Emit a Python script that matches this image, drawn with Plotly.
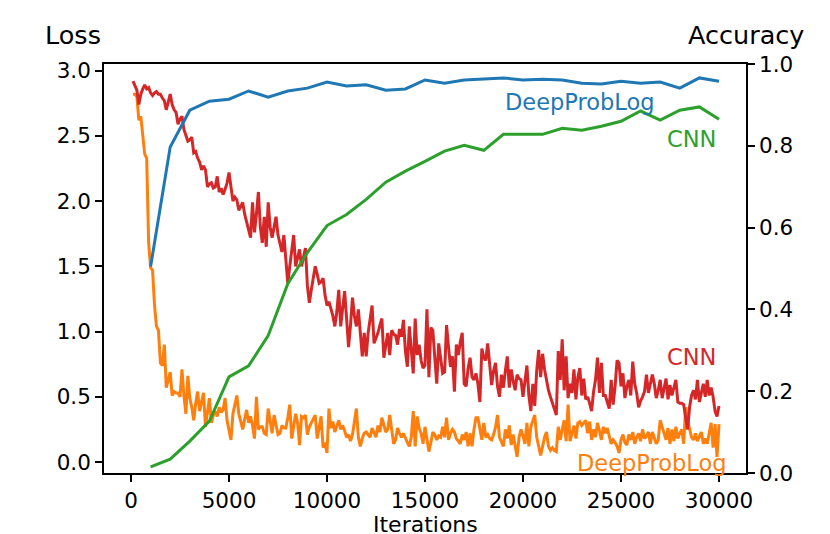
import plotly.graph_objects as go

# ---- data -------------------------------------------------------------
loss_iterations = list(range(100, 30001, 100))
acc_iterations = list(range(1000, 30001, 1000))

cnn_loss = [
    2.92, 2.88, 2.85, 2.74, 2.82, 2.86, 2.89, 2.86, 2.87, 2.83,
    2.81, 2.83, 2.84, 2.82, 2.82, 2.79, 2.77, 2.70, 2.76, 2.82,
    2.74, 2.70, 2.68, 2.59, 2.63, 2.65, 2.55, 2.50, 2.46, 2.47,
    2.49, 2.37, 2.38, 2.33, 2.30, 2.24, 2.27, 2.24, 2.11, 2.13,
    2.14, 2.10, 2.11, 2.19, 2.07, 2.10, 2.05, 2.09, 2.14, 2.22,
    2.10, 2.00, 2.03, 2.01, 1.93, 1.96, 1.99, 1.90, 1.84, 1.76,
    1.72, 1.99, 1.76, 1.90, 2.07, 1.80, 1.68, 1.88, 1.65, 1.99,
    1.80, 1.72, 1.80, 1.88, 1.74, 1.68, 1.61, 1.74, 1.55, 1.37,
    1.50, 1.62, 1.74, 1.50, 1.58, 1.63, 1.50, 1.58, 1.64, 1.35,
    1.22, 1.32, 1.42, 1.50, 1.44, 1.37, 1.38, 1.41, 1.28, 1.20,
    1.23, 1.18, 1.12, 1.04, 1.15, 1.32, 1.04, 1.18, 1.31, 1.10,
    0.88, 1.05, 1.26, 1.12, 1.04, 1.17, 1.00, 0.81, 0.99, 0.81,
    0.99, 1.08, 1.20, 0.91, 0.95, 0.99, 1.05, 1.10, 0.80, 0.90,
    0.99, 0.82, 1.01, 0.98, 0.97, 0.90, 1.02, 0.96, 1.09, 0.85,
    0.73, 1.04, 0.85, 0.68, 1.10, 0.82, 0.90, 0.78, 0.72, 0.74,
    1.17, 0.65, 1.03, 1.01, 0.80, 0.60, 0.91, 0.78, 0.68, 0.69,
    1.05, 0.88, 0.73, 0.81, 0.54, 0.90, 0.82, 0.92, 0.99, 0.60,
    0.58, 0.72, 0.80, 0.65, 0.63, 0.68, 0.60, 0.46, 0.87, 0.80,
    0.78, 0.91, 0.75, 0.59, 0.70, 0.76, 0.58, 0.50, 0.67, 0.57,
    0.70, 0.81, 0.57, 0.71, 0.62, 0.55, 0.67, 0.64, 0.63, 0.50,
    0.62, 0.74, 0.51, 0.39, 0.60, 0.43, 0.70, 0.86, 0.65, 0.83,
    0.71, 0.62, 0.55, 0.50, 0.45, 0.40, 0.36, 0.85, 0.63, 0.94,
    0.55, 0.81, 0.49, 0.60, 0.53, 0.71, 0.48, 0.65, 0.72, 0.51,
    0.64, 0.48, 0.50, 0.45, 0.39, 0.54, 0.63, 0.80, 0.53, 0.76,
    0.51, 0.51, 0.46, 0.41, 0.63, 0.44, 0.58, 0.78, 0.76, 0.58,
    0.68, 0.49, 0.58, 0.63, 0.51, 0.77, 0.60, 0.53, 0.42, 0.47,
    0.50, 0.54, 0.67, 0.53, 0.60, 0.67, 0.60, 0.49, 0.55, 0.63,
    0.49, 0.56, 0.64, 0.48, 0.59, 0.51, 0.57, 0.63, 0.46, 0.45,
    0.45, 0.44, 0.34, 0.25, 0.42, 0.51, 0.55, 0.48, 0.63, 0.46,
    0.53, 0.60, 0.50, 0.63, 0.51, 0.57, 0.50, 0.39, 0.35, 0.43,
]

dpl_loss = [
    2.82, 2.82, 2.80, 2.62, 2.65, 2.50, 2.36, 2.33, 1.68, 1.49,
    1.47, 1.20, 1.04, 1.01, 0.76, 0.74, 0.90, 0.57, 0.62, 0.69,
    0.51, 0.54, 0.53, 0.53, 0.50, 0.71, 0.51, 0.37, 0.66, 0.49,
    0.42, 0.32, 0.45, 0.54, 0.39, 0.46, 0.53, 0.27, 0.40, 0.49,
    0.30, 0.36, 0.39, 0.35, 0.42, 0.38, 0.40, 0.49, 0.32, 0.24,
    0.17, 0.37, 0.45, 0.51, 0.37, 0.30, 0.25, 0.33, 0.40, 0.30,
    0.35, 0.28, 0.18, 0.50, 0.25, 0.27, 0.27, 0.22, 0.21, 0.41,
    0.30, 0.22, 0.36, 0.28, 0.21, 0.22, 0.28, 0.26, 0.26, 0.34,
    0.44, 0.18, 0.28, 0.37, 0.30, 0.13, 0.35, 0.34, 0.36, 0.21,
    0.27, 0.30, 0.34, 0.36, 0.18, 0.27, 0.35, 0.11, 0.15, 0.07,
    0.41, 0.26, 0.31, 0.23, 0.28, 0.32, 0.25, 0.28, 0.24, 0.19,
    0.21, 0.16, 0.21, 0.30, 0.41, 0.19, 0.12, 0.18, 0.22, 0.23,
    0.21, 0.19, 0.26, 0.22, 0.19, 0.28, 0.23, 0.34, 0.28, 0.23,
    0.25, 0.36, 0.25, 0.14, 0.17, 0.26, 0.22, 0.19, 0.22, 0.18,
    0.15, 0.12, 0.19, 0.39, 0.12, 0.35, 0.26, 0.22, 0.14, 0.27,
    0.17, 0.08, 0.15, 0.23, 0.21, 0.17, 0.20, 0.19, 0.27, 0.19,
    0.34, 0.17, 0.22, 0.25, 0.23, 0.18, 0.16, 0.14, 0.21, 0.17,
    0.23, 0.12, 0.22, 0.12, 0.25, 0.34, 0.34, 0.24, 0.17, 0.30,
    0.19, 0.21, 0.18, 0.17, 0.21, 0.27, 0.36, 0.19, 0.15, 0.12,
    0.25, 0.18, 0.28, 0.13, 0.21, 0.12, 0.04, 0.19, 0.25, 0.20,
    0.14, 0.30, 0.12, 0.27, 0.32, 0.36, 0.19, 0.12, 0.05, 0.12,
    0.19, 0.23, 0.12, 0.09, 0.11, 0.09, 0.08, 0.27, 0.17, 0.25,
    0.32, 0.16, 0.44, 0.16, 0.22, 0.28, 0.18, 0.30, 0.31, 0.28,
    0.30, 0.32, 0.22, 0.31, 0.17, 0.25, 0.19, 0.30, 0.24, 0.17,
    0.27, 0.22, 0.26, 0.19, 0.14, 0.17, 0.15, 0.12, 0.07, 0.17,
    0.21, 0.15, 0.13, 0.21, 0.17, 0.23, 0.14, 0.19, 0.22, 0.16,
    0.25, 0.18, 0.20, 0.23, 0.14, 0.23, 0.18, 0.14, 0.17, 0.32,
    0.27, 0.22, 0.17, 0.26, 0.14, 0.25, 0.16, 0.27, 0.18, 0.22,
    0.25, 0.14, 0.42, 0.32, 0.25, 0.19, 0.17, 0.22, 0.16, 0.20,
    0.23, 0.14, 0.18, 0.14, 0.22, 0.30, 0.11, 0.29, 0.04, 0.29,
]

dpl_accuracy = [
    0.505, 0.797, 0.887, 0.909, 0.914, 0.934, 0.919, 0.934, 0.941, 0.956,
    0.946, 0.949, 0.936, 0.939, 0.961, 0.953, 0.961, 0.963, 0.966, 0.961,
    0.963, 0.961, 0.953, 0.951, 0.958, 0.953, 0.956, 0.941, 0.966, 0.958,
]

cnn_accuracy = [
    0.015, 0.034, 0.078, 0.127, 0.235, 0.262, 0.336, 0.463, 0.539, 0.605,
    0.632, 0.669, 0.711, 0.738, 0.762, 0.787, 0.801, 0.789, 0.828, 0.828,
    0.828, 0.843, 0.838, 0.848, 0.860, 0.885, 0.863, 0.887, 0.895, 0.865,
]

x_ticks = [0, 5000, 10000, 15000, 20000, 25000, 30000]
loss_ticks = [0.0, 0.5, 1.0, 1.5, 2.0, 2.5, 3.0]
acc_ticks = [0.0, 0.2, 0.4, 0.6, 0.8, 1.0]

# ---- styling ----------------------------------------------------------
BLUE, ORANGE, GREEN, RED = "#1f77b4", "#ff7f0e", "#2ca02c", "#d62728"
FONT = "DejaVu Sans"
LW = 3

fig = go.Figure()
fig.add_trace(go.Scatter(x=loss_iterations, y=dpl_loss, mode="lines",
                         line=dict(color=ORANGE, width=LW), yaxis="y"))
fig.add_trace(go.Scatter(x=loss_iterations, y=cnn_loss, mode="lines",
                         line=dict(color=RED, width=LW), yaxis="y"))
fig.add_trace(go.Scatter(x=acc_iterations, y=dpl_accuracy, mode="lines",
                         line=dict(color=BLUE, width=LW), yaxis="y2"))
fig.add_trace(go.Scatter(x=acc_iterations, y=cnn_accuracy, mode="lines",
                         line=dict(color=GREEN, width=LW), yaxis="y2"))

axis_common = dict(showgrid=False, zeroline=False, showline=True,
                   linecolor="black", linewidth=1.6, ticks="outside",
                   ticklen=7, tickwidth=1.6, tickcolor="black",
                   automargin=False,
                   tickfont=dict(family=FONT, size=21.5, color="black"))

# the page body adds an 8px offset, so the figure is drawn 8px smaller
fig.update_layout(
    width=822, height=526,
    margin=dict(l=96, r=84, t=56, b=61),
    paper_bgcolor="white", plot_bgcolor="white",
    showlegend=False,
    font=dict(family=FONT, color="black"),
    xaxis=dict(range=[-1378, 31378], tickvals=x_ticks,
               ticktext=[str(v) for v in x_ticks], mirror=True, **axis_common),
    yaxis=dict(range=[-0.084, 3.051], tickvals=loss_ticks,
               ticktext=[f"{v:.1f}" for v in loss_ticks], **axis_common),
    yaxis2=dict(range=[0, 1.0], overlaying="y", side="right",
                tickvals=acc_ticks, ticktext=[f"{v:.1f}" for v in acc_ticks],
                **axis_common),
)

def label(text, x, y, color, size, xanchor, borderpad=1):
    fig.add_annotation(text=text, x=x, y=y, xref="paper", yref="paper",
                       xanchor=xanchor, yanchor="middle", showarrow=False,
                       borderpad=borderpad,
                       font=dict(family=FONT, size=size, color=color))

# series labels
label("DeepProbLog", 0.860, 0.907, BLUE, 22.5, "right")
label("CNN", 0.957, 0.817, GREEN, 22.5, "right")
label("CNN", 0.957, 0.284, RED, 22.5, "right")
label("DeepProbLog", 0.972, 0.024, ORANGE, 22.5, "right")

# axis titles
label("Loss", -0.095, 1.070, "black", 25.5, "left")
label("Accuracy", 1.093, 1.070, "black", 25.5, "right")
label("Iterations", 0.5, -0.126, "black", 22, "center", borderpad=0)

fig.write_html("out.html")
